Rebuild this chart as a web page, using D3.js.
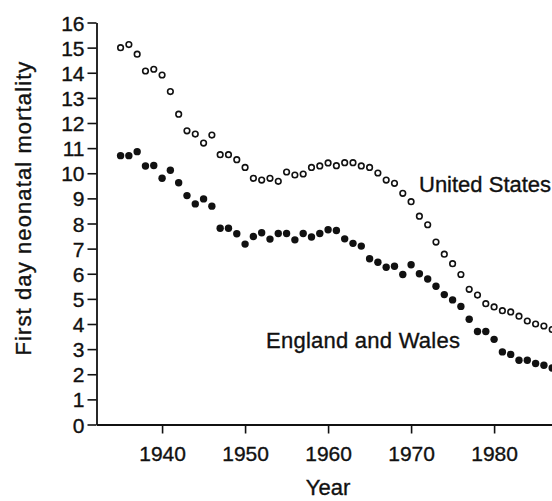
<!DOCTYPE html>
<html>
<head>
<meta charset="utf-8">
<script src="https://cdn.jsdelivr.net/npm/d3@7"></script>
<style>
  html, body { margin: 0; padding: 0; background: #fff; }
  svg { display: block; }
  text { font-family: "Liberation Sans", Arial, Helvetica, sans-serif; fill: #111; }
</style>
</head>
<body>
<svg id="chart" width="552" height="501"></svg>
<script>
const years = d3.range(1935, 1988);
const usValues = [15.00, 15.12, 14.74, 14.07, 14.14, 13.91, 13.25, 12.35, 11.69, 11.56,
  11.20, 11.52, 10.74, 10.74, 10.54, 10.23, 9.80, 9.73, 9.80, 9.68,
  10.05, 9.93, 9.97, 10.23, 10.29, 10.41, 10.30, 10.42, 10.42, 10.29,
  10.23, 10.01, 9.73, 9.60, 9.20, 8.87, 8.29, 7.95, 7.26, 6.78,
  6.40, 5.97, 5.38, 5.15, 4.81, 4.68, 4.53, 4.48, 4.31, 4.12,
  4.00, 3.92, 3.78];
const ewValues = [10.70, 10.70, 10.86, 10.29, 10.31, 9.80, 10.12, 9.62, 9.11, 8.78,
  8.98, 8.69, 7.81, 7.81, 7.59, 7.18, 7.48, 7.63, 7.38, 7.60,
  7.60, 7.35, 7.60, 7.46, 7.60, 7.75, 7.72, 7.39, 7.21, 7.10,
  6.60, 6.46, 6.26, 6.30, 5.97, 6.36, 6.00, 5.79, 5.50, 5.17,
  4.96, 4.70, 4.19, 3.70, 3.70, 3.39, 2.89, 2.79, 2.56, 2.56,
  2.43, 2.36, 2.25];
const xTicks = [1940, 1950, 1960, 1970, 1980];
const yTicks = d3.range(0, 17);
const seriesLabels = ["United States", "England and Wales"];
const xTitle = "Year";
const yTitle = "First day neonatal mortality";

const svg = d3.select("#chart");
const x = d3.scaleLinear().domain([1932.1, 1987]).range([96.5, 552.2]);
const y = d3.scaleLinear().domain([0, 16]).range([424.5, 22.5]);

// axes
const xAxis = svg.append("g")
  .attr("transform", `translate(0,${y(0)})`)
  .call(d3.axisBottom(x).tickValues(xTicks).tickFormat(d3.format("d")).tickSize(9).tickSizeOuter(0));
const yAxis = svg.append("g")
  .attr("transform", `translate(${x(1932.1)},0)`)
  .call(d3.axisLeft(y).tickValues(yTicks).tickFormat(d3.format("d")).tickSize(9).tickSizeOuter(0));

[xAxis, yAxis].forEach(g => {
  g.select(".domain").attr("stroke", "#111").attr("stroke-width", 1.8);
  g.selectAll(".tick line").attr("stroke", "#111").attr("stroke-width", 1.6);
  g.selectAll(".tick text").attr("font-size", 21).attr("fill", "#111")
    .attr("stroke", "#111").attr("stroke-width", 0.35)
    .attr("font-family", "Liberation Sans, Arial, sans-serif");
});
xAxis.selectAll(".tick text").attr("y", 22).attr("dy", "0.71em");
yAxis.selectAll(".tick text").attr("x", -12).attr("dy", "0.36em");

// titles
svg.append("text").attr("x", x(1960)).attr("y", 495)
  .attr("text-anchor", "middle").attr("font-size", 22)
  .attr("stroke", "#111").attr("stroke-width", 0.35).text(xTitle);
svg.append("text").attr("transform", `translate(31,208) rotate(-90)`)
  .attr("text-anchor", "middle").attr("font-size", 22).attr("letter-spacing", 1.1)
  .attr("stroke", "#111").attr("stroke-width", 0.35).text(yTitle);

// series
svg.append("g").selectAll("circle").data(years.map((yr, i) => [yr, ewValues[i]]))
  .join("circle")
  .attr("cx", d => x(d[0])).attr("cy", d => y(d[1])).attr("r", 3.7)
  .attr("fill", "#111");
svg.append("g").selectAll("circle").data(years.map((yr, i) => [yr, usValues[i]]))
  .join("circle")
  .attr("cx", d => x(d[0])).attr("cy", d => y(d[1])).attr("r", 2.8)
  .attr("fill", "#fff").attr("stroke", "#111").attr("stroke-width", 1.6);

// series labels
svg.append("text").attr("x", 419).attr("y", 192).attr("font-size", 22)
  .attr("stroke", "#111").attr("stroke-width", 0.35).text(seriesLabels[0]);
svg.append("text").attr("x", 266).attr("y", 348).attr("font-size", 22).attr("letter-spacing", 0.25)
  .attr("stroke", "#111").attr("stroke-width", 0.35).text(seriesLabels[1]);
</script>
</body>
</html>
